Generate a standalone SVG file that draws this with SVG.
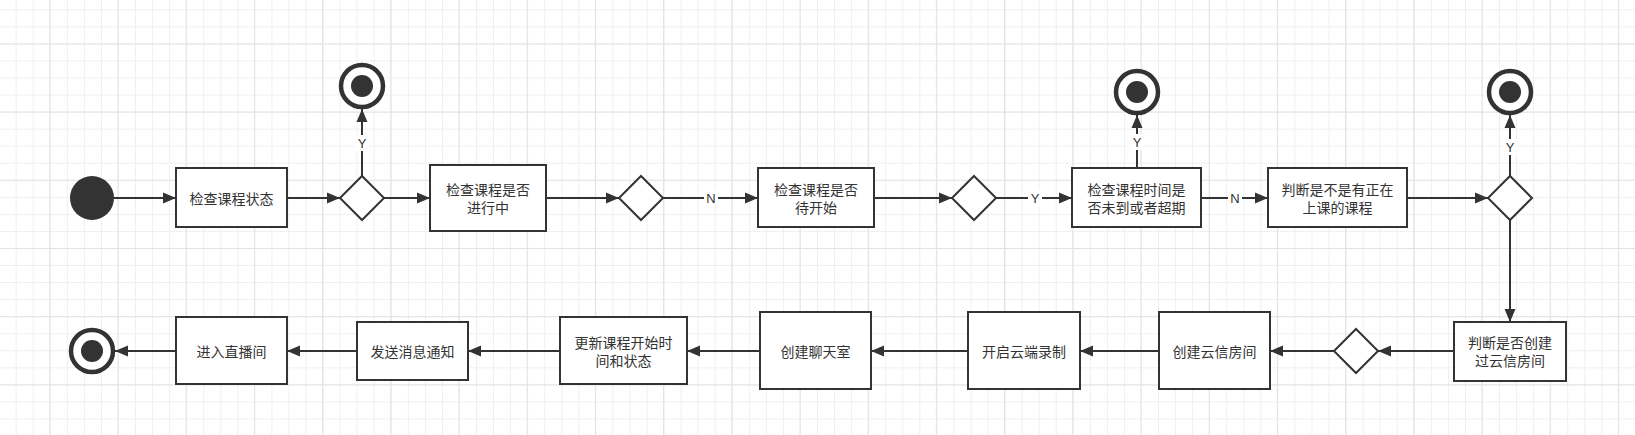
<svg xmlns="http://www.w3.org/2000/svg" width="1635" height="435" viewBox="0 0 1635 435">
<defs>
<pattern id="minor" patternUnits="userSpaceOnUse" x="-1.35" y="-7.75" width="17.05" height="17.05">
<path d="M0.5,0 V17.05 M0,0.5 H17.05" fill="none" stroke="#efefef" stroke-width="1"/>
</pattern>
<pattern id="major" patternUnits="userSpaceOnUse" x="-18.9" y="-24.8" width="68.2" height="68.2">
<path d="M0.5,0 V68.2 M0,0.5 H68.2" fill="none" stroke="#e2e2e2" stroke-width="1"/>
</pattern>
<marker id="arr" markerUnits="userSpaceOnUse" markerWidth="14" markerHeight="12" refX="13" refY="6" orient="auto">
<path d="M0,0.5 L13,6 L0,11.5 Z" fill="#333"/>
</marker>
</defs>
<style>
.box{fill:#fff;stroke:#333;stroke-width:2}
.dia{fill:#fff;stroke:#333;stroke-width:2}
.t{font-family:"Noto Sans CJK SC","Liberation Sans",sans-serif;font-size:14px;fill:#333;text-anchor:middle;dominant-baseline:central}
.lbl{font-family:"Liberation Sans","Noto Sans",sans-serif;font-size:13px;fill:#333;text-anchor:middle;dominant-baseline:central}
.lb{fill:#fff}
.c{fill:none;stroke:#333;stroke-width:2;marker-end:url(#arr)}
.ring{fill:#fff;stroke:#333;stroke-width:4.5}
.dot{fill:#333}
</style>
<rect width="1635" height="435" fill="#fff"/>
<rect width="1635" height="435" fill="url(#minor)"/>
<rect width="1635" height="435" fill="url(#major)"/>

<g id="connectors">
<path class="c" d="M114,198 H176"/>
<path class="c" d="M287,198 H340"/>
<path class="c" d="M362,176 V109"/>
<path class="c" d="M384,198 H430"/>
<path class="c" d="M546,198 H619"/>
<path class="c" d="M663,198 H758"/>
<path class="c" d="M874,198 H952"/>
<path class="c" d="M996,198 H1072"/>
<path class="c" d="M1137,168 V115"/>
<path class="c" d="M1201,198 H1268"/>
<path class="c" d="M1407,198 H1488"/>
<path class="c" d="M1510,176 V115"/>
<path class="c" d="M1510,220 V322"/>
<path class="c" d="M1454,351 H1378"/>
<path class="c" d="M1334,351 H1270"/>
<path class="c" d="M1159,351 H1080"/>
<path class="c" d="M968,351 H871"/>
<path class="c" d="M760,351 H687"/>
<path class="c" d="M560,351 H468"/>
<path class="c" d="M357,351 H287"/>
<path class="c" d="M176,351 H115"/>
<rect class="lb" x="355" y="135" width="14" height="16"/>
<text class="lbl" x="362" y="143">Y</text>
<rect class="lb" x="704" y="190" width="14" height="16"/>
<text class="lbl" x="711" y="198">N</text>
<rect class="lb" x="1028" y="190" width="14" height="16"/>
<text class="lbl" x="1035" y="198">Y</text>
<rect class="lb" x="1130" y="134" width="14" height="16"/>
<text class="lbl" x="1137" y="142">Y</text>
<rect class="lb" x="1228" y="190" width="14" height="16"/>
<text class="lbl" x="1235" y="198">N</text>
<rect class="lb" x="1503" y="139" width="14" height="16"/>
<text class="lbl" x="1510" y="147">Y</text>
</g>

<g id="start"><circle cx="92" cy="198" r="22" class="dot"/></g>
<g id="end1"><circle cx="362" cy="86" r="21" class="ring"/><circle cx="362" cy="86" r="11" class="dot"/></g>
<g id="end2"><circle cx="1137" cy="92" r="21" class="ring"/><circle cx="1137" cy="92" r="11" class="dot"/></g>
<g id="end3"><circle cx="1510" cy="92" r="21" class="ring"/><circle cx="1510" cy="92" r="11" class="dot"/></g>
<g id="end4"><circle cx="92" cy="351" r="21" class="ring"/><circle cx="92" cy="351" r="11" class="dot"/></g>

<g id="d1"><path class="dia" d="M362,176 L384,198 L362,220 L340,198 Z"/></g>
<g id="d2"><path class="dia" d="M641,176 L663,198 L641,220 L619,198 Z"/></g>
<g id="d3"><path class="dia" d="M974,176 L996,198 L974,220 L952,198 Z"/></g>
<g id="d4"><path class="dia" d="M1510,176 L1532,198 L1510,220 L1488,198 Z"/></g>
<g id="d5"><path class="dia" d="M1356,329 L1378,351 L1356,373 L1334,351 Z"/></g>

<g id="box1"><rect class="box" x="176" y="168" width="111" height="59"/><text class="t" x="231.5" y="197.5">检查课程状态</text></g>
<g id="box2"><rect class="box" x="430" y="165" width="116" height="66"/><text class="t" x="488" y="189">检查课程是否</text><text class="t" x="488" y="206.5">进行中</text></g>
<g id="box3"><rect class="box" x="758" y="168" width="116" height="59"/><text class="t" x="816" y="189">检查课程是否</text><text class="t" x="816" y="206.5">待开始</text></g>
<g id="box4"><rect class="box" x="1072" y="168" width="129" height="59"/><text class="t" x="1136.5" y="189">检查课程时间是</text><text class="t" x="1136.5" y="206.5">否未到或者超期</text></g>
<g id="box5"><rect class="box" x="1268" y="168" width="139" height="59"/><text class="t" x="1337.5" y="189">判断是不是有正在</text><text class="t" x="1337.5" y="206.5">上课的课程</text></g>
<g id="box6"><rect class="box" x="1454" y="322" width="112" height="59"/><text class="t" x="1510" y="342">判断是否创建</text><text class="t" x="1510" y="359.5">过云信房间</text></g>
<g id="box7"><rect class="box" x="1159" y="312" width="111" height="77"/><text class="t" x="1214.5" y="350.5">创建云信房间</text></g>
<g id="box8"><rect class="box" x="968" y="312" width="112" height="77"/><text class="t" x="1024" y="350.5">开启云端录制</text></g>
<g id="box9"><rect class="box" x="760" y="312" width="111" height="77"/><text class="t" x="815.5" y="350.5">创建聊天室</text></g>
<g id="box10"><rect class="box" x="560" y="317" width="127" height="67"/><text class="t" x="623.5" y="342">更新课程开始时</text><text class="t" x="623.5" y="359.5">间和状态</text></g>
<g id="box12"><rect class="box" x="357" y="322" width="111" height="58"/><text class="t" x="412.5" y="350.5">发送消息通知</text></g>
<g id="box11"><rect class="box" x="176" y="317" width="111" height="67"/><text class="t" x="231.5" y="350.5">进入直播间</text></g>
</svg>
